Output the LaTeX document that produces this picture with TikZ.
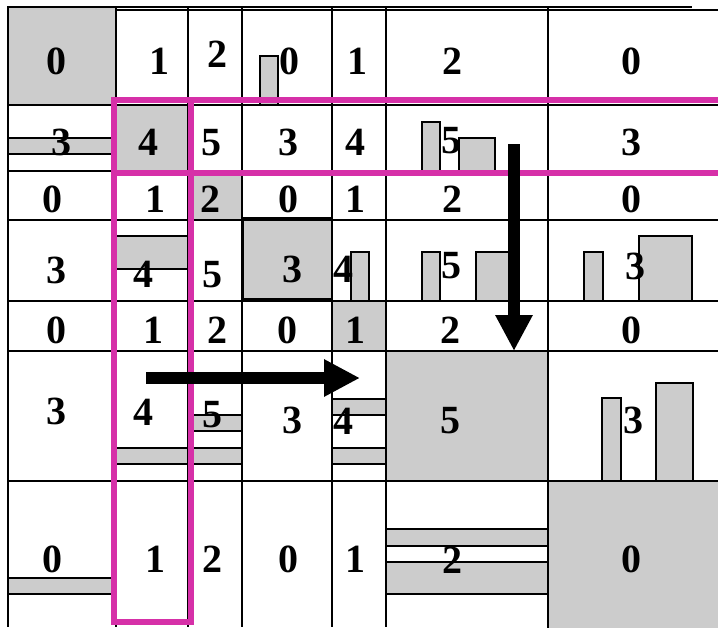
\documentclass[tikz,border=0pt]{standalone}
\usepackage{fontspec}
\setmainfont{Liberation Serif}
\usetikzlibrary{arrows.meta}
\definecolor{cellgray}{RGB}{204,204,204}
\definecolor{framepink}{RGB}{214,48,168}
\begin{document}
\begin{tikzpicture}[x=1pt,y=-1pt,
			num/.style={font=\bfseries\fontsize{40}{40}\selectfont, inner sep=0pt, anchor=base},
			shade/.style={draw=black, line width=1.2pt, fill=cellgray},
			gridline/.style={line width=1.3pt},
			frame/.style={draw=framepink, line width=6pt},
			bigarrow/.style={line width=12pt, -{Triangle[length=36pt,width=35pt]}}
			]
			\useasboundingbox (0,0) rectangle (718,627);
			% shaded blocks
			\draw[shade] (8,7) rectangle (116,105);
			\draw[shade] (260,56) rectangle (278,105);
			\draw[shade] (8,138) rectangle (116,154);
			\draw[shade] (116,105) rectangle (188,171);
			\draw[shade] (422,122) rectangle (440,171);
			\draw[shade] (459,138) rectangle (495,171);
			\draw[shade] (188,171) rectangle (242,220);
			\draw[shade] (116,236) rectangle (188,269);
			\draw[shade] (243,218) rectangle (332,299);
			\draw[shade] (351,252) rectangle (369,301);
			\draw[shade] (422,252) rectangle (440,301);
			\draw[shade] (476,252) rectangle (514,301);
			\draw[shade] (584,252) rectangle (603,301);
			\draw[shade] (639,236) rectangle (692,301);
			\draw[shade] (332,301) rectangle (386,351);
			\draw[shade] (386,351) rectangle (548,481);
			\draw[shade] (188,415) rectangle (242,431);
			\draw[shade] (116,448) rectangle (188,464);
			\draw[shade] (188,448) rectangle (242,464);
			\draw[shade] (332,399) rectangle (386,415);
			\draw[shade] (332,448) rectangle (386,464);
			\draw[shade] (602,398) rectangle (621,481);
			\draw[shade] (656,383) rectangle (693,481);
			\draw[shade] (8,578) rectangle (116,594);
			\draw[shade] (386,529) rectangle (548,546);
			\draw[shade] (386,562) rectangle (548,594);
			\draw[shade] (548,481) rectangle (720,629);
			% grid
			\draw[gridline] (8,7) -- (692,7);
			\draw[gridline] (116,10) -- (718,10);
			\foreach \gx in {8,116,188,242,332,386,548}
				\draw[gridline] (\gx,7) -- (\gx,627);
			\foreach \gy in {105,171,220,301,351,481}
				\draw[gridline] (8,\gy) -- (718,\gy);
			% row 1
			\node[num] (a1) at (56,74) {0};
			\node[num] (a2) at (159,74) {1};
			\node[num] (a3) at (217,67) {2};
			\node[num] (a4) at (289,74) {0};
			\node[num] (a5) at (357,74) {1};
			\node[num] (a6) at (452,74) {2};
			\node[num] (a7) at (631,74) {0};
			% row 2
			\node[num] (b1) at (61,155) {3};
			\node[num] (b2) at (148,155) {4};
			\node[num] (b3) at (211,155) {5};
			\node[num] (b4) at (288,155) {3};
			\node[num] (b5) at (355,155) {4};
			\node[num] (b6) at (451,153) {5};
			\node[num] (b7) at (631,155) {3};
			% row 3
			\node[num] (c1) at (52,212) {0};
			\node[num] (c2) at (155,212) {1};
			\node[num] (c3) at (210,212) {2};
			\node[num] (c4) at (288,212) {0};
			\node[num] (c5) at (355,212) {1};
			\node[num] (c6) at (452,212) {2};
			\node[num] (c7) at (631,212) {0};
			% row 4
			\node[num] (d1) at (56,283) {3};
			\node[num] (d2) at (143,287) {4};
			\node[num] (d3) at (212,287) {5};
			\node[num] (d4) at (292,282) {3};
			\node[num] (d5) at (343,282) {4};
			\node[num] (d6) at (451,278) {5};
			\node[num] (d7) at (635,279) {3};
			% row 5
			\node[num] (e1) at (56,343) {0};
			\node[num] (e2) at (153,343) {1};
			\node[num] (e3) at (217,343) {2};
			\node[num] (e4) at (287,343) {0};
			\node[num] (e5) at (355,343) {1};
			\node[num] (e6) at (450,343) {2};
			\node[num] (e7) at (631,343) {0};
			% row 6
			\node[num] (f1) at (56,424) {3};
			\node[num] (f2) at (143,425) {4};
			\node[num] (f3) at (212,427) {5};
			\node[num] (f4) at (292,433) {3};
			\node[num] (f5) at (343,434) {4};
			\node[num] (f6) at (450,433) {5};
			\node[num] (f7) at (633,433) {3};
			% row 7
			\node[num] (g1) at (52,572) {0};
			\node[num] (g2) at (155,572) {1};
			\node[num] (g3) at (212,572) {2};
			\node[num] (g4) at (288,572) {0};
			\node[num] (g5) at (355,572) {1};
			\node[num] (g6) at (452,573) {2};
			\node[num] (g7) at (631,572) {0};
			% window frames
			\draw[frame] (114,100) rectangle (724,173);
			\draw[frame] (114,100) rectangle (191,622);
			% scan directions
			\coordinate (downfrom) at (514,144);
			\coordinate (downto) at (514,351);
			\coordinate (rightfrom) at (146,378);
			\coordinate (rightto) at (360,378);
			\draw[bigarrow] (downfrom) -- (downto);
			\draw[bigarrow] (rightfrom) -- (rightto);
		\end{tikzpicture}
\end{document}
